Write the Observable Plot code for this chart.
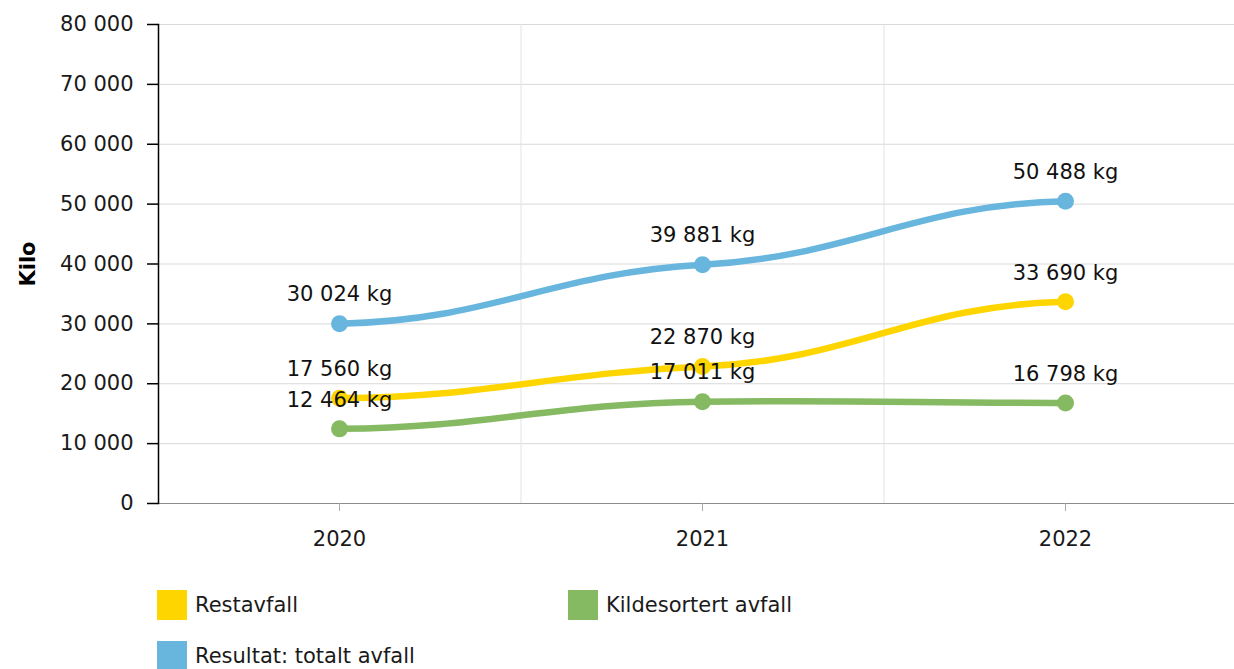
<!DOCTYPE html>
<html>
<head>
<meta charset="utf-8">
<script src="https://cdn.jsdelivr.net/npm/d3@7"></script>
<script src="https://cdn.jsdelivr.net/npm/@observablehq/plot@0.6"></script>
<style>
  html, body { margin: 0; padding: 0; background: #fff; }
  body { width: 1234px; height: 669px; overflow: hidden; font-family: "DejaVu Sans", Verdana, sans-serif; }
  #legend { position: absolute; left: 157px; top: 590px; width: 900px; display: flex; flex-wrap: wrap; row-gap: 21px; }
  .item { width: 411px; height: 30px; display: flex; align-items: center; font-size: 21px; color: #1a1a1a; }
  .sw { width: 30px; height: 30px; margin-right: 8px; flex: none; }
</style>
</head>
<body>
<div id="chart"></div>
<div id="legend"></div>
<script>
const years = [2020, 2021, 2022];
const seriesNames = ["Restavfall", "Kildesortert avfall", "Resultat: totalt avfall"];
const restavfall = [17560, 22870, 33690];
const kildesortert = [12464, 17011, 16798];
const totalt = [30024, 39881, 50488];
const colors = ["#ffd500", "#85b962", "#68b6dd"];
const yTicks = [0, 10000, 20000, 30000, 40000, 50000, 60000, 70000, 80000];

const seriesValues = [restavfall, kildesortert, totalt];
const data = [];
seriesNames.forEach((s, i) => years.forEach((y, j) => data.push({series: s, year: y, value: seriesValues[i][j]})));
const drawOrder = ["Kildesortert avfall", "Restavfall", "Resultat: totalt avfall"];
const ordered = drawOrder.flatMap(s => data.filter(d => d.series === s));

const fmt = v => d3.format(",")(v).replace(/,/g, " ");

// smooth spline: nearly flat tangents at the ends, damped tangents inside
function softSpline(context) {
  let pts;
  const k = 0.33, kEnd = 0.12, off = 0.42;
  return {
    areaStart() {}, areaEnd() {},
    lineStart() { pts = []; },
    point(x, y) { pts.push([+x, +y]); },
    lineEnd() {
      const n = pts.length;
      if (!n) return;
      const m = pts.map((p, i) => {
        if (n < 2) return 0;
        if (i === 0) return kEnd * (pts[1][1] - pts[0][1]) / (pts[1][0] - pts[0][0]);
        if (i === n - 1) return kEnd * (pts[i][1] - pts[i - 1][1]) / (pts[i][0] - pts[i - 1][0]);
        const [lx, ly] = pts[i - 1], [nx, ny] = pts[i + 1];
        return k * (ny - ly) / (nx - lx);
      });
      context.moveTo(pts[0][0], pts[0][1]);
      for (let i = 1; i < n; i++) {
        const [x0, y0] = pts[i - 1], [x1, y1] = pts[i];
        const d = (x1 - x0) * off;
        context.bezierCurveTo(x0 + d, y0 + m[i - 1] * d, x1 - d, y1 - m[i] * d, x1, y1);
      }
    }
  };
}

const chart = Plot.plot({
  width: 1234,
  height: 575,
  marginTop: 24,
  marginBottom: 72,
  marginLeft: 158,
  marginRight: 0,
  style: {fontFamily: "'DejaVu Sans', Verdana, sans-serif", fontSize: "21px", color: "#1a1a1a", background: "#fff"},
  x: {type: "linear", domain: [2019.5, 2022.5], range: [157.5, 1246.5]},
  y: {domain: [0, 80000], range: [503, 24]},
  color: {domain: seriesNames, range: colors},
  marks: [
    Plot.ruleY(yTicks.filter(t => t > 0), {stroke: "#d9d9d9", strokeWidth: 1}),
    Plot.ruleX([2020.5, 2021.5], {stroke: "#e3e3e3", strokeWidth: 1}),
    Plot.frame({anchor: "bottom", stroke: "#8c8c8c", strokeWidth: 1.2}),
    Plot.frame({anchor: "left", stroke: "#000", strokeWidth: 1.5}),
    Plot.axisY({ticks: yTicks, tickFormat: fmt, tickSize: 11, tickPadding: 14, stroke: "#000", strokeWidth: 1.5, label: null, fontSize: 21}),
    Plot.axisX({ticks: years, tickFormat: d => String(d), tickSize: 8, tickPadding: 20, stroke: "#aaa", label: null, fontSize: 21}),
    Plot.text(["Kilo"], {frameAnchor: "left", textAnchor: "middle", dx: -130, rotate: -90, fontWeight: "bold", fontSize: 21, fill: "#000"}),
    Plot.line(ordered, {x: "year", y: "value", z: "series", stroke: "series", strokeWidth: 6.5, curve: softSpline}),
    Plot.dot(ordered, {x: "year", y: "value", fill: "series", r: 8.5, stroke: null}),
    Plot.text(ordered, {x: "year", y: "value", text: d => fmt(d.value) + " kg", dy: -29, fontSize: 21, fill: "#111"})
  ]
});
document.getElementById("chart").appendChild(chart);

const legend = document.getElementById("legend");
seriesNames.forEach((s, i) => {
  const it = document.createElement("div");
  it.className = "item";
  const sw = document.createElement("div");
  sw.className = "sw";
  sw.style.background = colors[i];
  const tx = document.createElement("span");
  tx.textContent = s;
  it.appendChild(sw); it.appendChild(tx);
  legend.appendChild(it);
});
</script>
</body>
</html>
